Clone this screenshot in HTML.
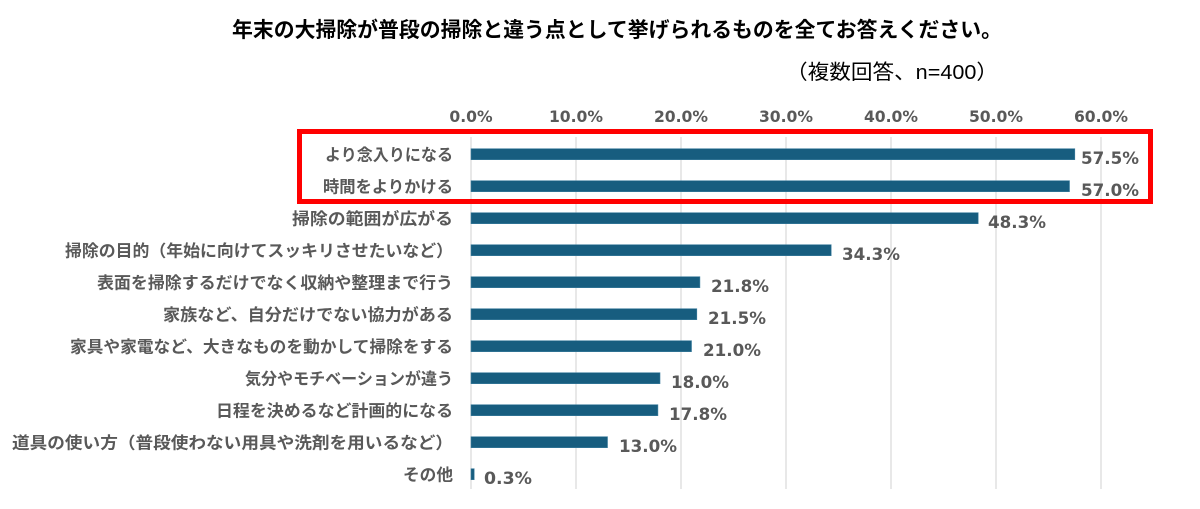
<!DOCTYPE html>
<html>
<head>
<meta charset="utf-8">
<style>
  html,body{margin:0;padding:0;background:#fff;}
  svg{display:block;}
  .t{font-family:"Liberation Sans","Noto Sans CJK JP",sans-serif;}
  .lab{font-family:"Liberation Sans","Noto Sans CJK JP",sans-serif;font-weight:bold;font-size:16.5px;fill:#595959;}
  .val{font-family:"DejaVu Sans","Liberation Sans",sans-serif;font-weight:bold;font-size:16.7px;fill:#595959;}
  .ax{font-family:"DejaVu Sans","Liberation Sans",sans-serif;font-weight:bold;font-size:15.6px;fill:#595959;}
</style>
</head>
<body>
<svg width="1200" height="509" viewBox="0 0 1200 509" xmlns="http://www.w3.org/2000/svg">
  <rect width="1200" height="509" fill="#fff"/>
  <!-- title -->
  <text class="t" x="232" y="37" font-size="20.8" font-weight="bold" fill="#000" textLength="770" lengthAdjust="spacingAndGlyphs">年末の大掃除が普段の掃除と違う点として挙げられるものを全てお答えください。</text>
  <text class="t" x="786" y="79" font-size="20.5" fill="#000" textLength="212" lengthAdjust="spacingAndGlyphs">（複数回答、n=400）</text>

  <!-- axis labels -->
  <g class="ax" text-anchor="middle">
    <text x="471" y="122">0.0%</text>
    <text x="576" y="122">10.0%</text>
    <text x="681" y="122">20.0%</text>
    <text x="786" y="122">30.0%</text>
    <text x="891" y="122">40.0%</text>
    <text x="996" y="122">50.0%</text>
    <text x="1101" y="122">60.0%</text>
  </g>

  <!-- gridlines -->
  <g stroke="#d9d9d9" stroke-width="1.2">
    <line x1="471" y1="137" x2="471" y2="489"/>
    <line x1="576" y1="137" x2="576" y2="489"/>
    <line x1="681" y1="137" x2="681" y2="489"/>
    <line x1="786" y1="137" x2="786" y2="489"/>
    <line x1="891" y1="137" x2="891" y2="489"/>
    <line x1="996" y1="137" x2="996" y2="489"/>
    <line x1="1101" y1="137" x2="1101" y2="489"/>
  </g>

  <!-- bars -->
  <g fill="#175d7f" stroke="#3f7f9f" stroke-width="0.6">
    <rect x="471" y="148.7" width="603.8" height="11"/>
    <rect x="471" y="180.7" width="598.5" height="11"/>
    <rect x="471" y="212.7" width="507.2" height="11"/>
    <rect x="471" y="244.7" width="360.2" height="11"/>
    <rect x="471" y="276.7" width="228.9" height="11"/>
    <rect x="471" y="308.7" width="225.8" height="11"/>
    <rect x="471" y="340.7" width="220.5" height="11"/>
    <rect x="471" y="372.7" width="189.0" height="11"/>
    <rect x="471" y="404.7" width="186.9" height="11"/>
    <rect x="471" y="436.7" width="136.5" height="11"/>
    <rect x="471" y="468.7" width="3.2" height="11"/>
  </g>

  <!-- value labels -->
  <g class="val">
    <text x="1081" y="164" textLength="58" lengthAdjust="spacingAndGlyphs">57.5%</text>
    <text x="1081" y="196" textLength="58" lengthAdjust="spacingAndGlyphs">57.0%</text>
    <text x="988" y="228" textLength="58" lengthAdjust="spacingAndGlyphs">48.3%</text>
    <text x="842" y="260" textLength="58" lengthAdjust="spacingAndGlyphs">34.3%</text>
    <text x="711" y="292" textLength="58" lengthAdjust="spacingAndGlyphs">21.8%</text>
    <text x="708" y="324" textLength="58" lengthAdjust="spacingAndGlyphs">21.5%</text>
    <text x="703" y="356" textLength="58" lengthAdjust="spacingAndGlyphs">21.0%</text>
    <text x="671" y="388" textLength="58" lengthAdjust="spacingAndGlyphs">18.0%</text>
    <text x="669" y="420" textLength="58" lengthAdjust="spacingAndGlyphs">17.8%</text>
    <text x="619" y="452" textLength="58" lengthAdjust="spacingAndGlyphs">13.0%</text>
    <text x="484" y="484" textLength="48" lengthAdjust="spacingAndGlyphs">0.3%</text>
  </g>

  <!-- category labels -->
  <g class="lab">
    <text x="325" y="160.5" textLength="128" lengthAdjust="spacingAndGlyphs">より念入りになる</text>
    <text x="323" y="192.5" textLength="130" lengthAdjust="spacingAndGlyphs">時間をよりかける</text>
    <text x="292" y="224.5" textLength="161" lengthAdjust="spacingAndGlyphs">掃除の範囲が広がる</text>
    <text x="65" y="256.5" textLength="388" lengthAdjust="spacingAndGlyphs">掃除の目的（年始に向けてスッキリさせたいなど）</text>
    <text x="97" y="288.5" textLength="356" lengthAdjust="spacingAndGlyphs">表面を掃除するだけでなく収納や整理まで行う</text>
    <text x="163" y="320.5" textLength="290" lengthAdjust="spacingAndGlyphs">家族など、自分だけでない協力がある</text>
    <text x="70" y="352.5" textLength="383" lengthAdjust="spacingAndGlyphs">家具や家電など、大きなものを動かして掃除をする</text>
    <text x="245" y="384.5" textLength="208" lengthAdjust="spacingAndGlyphs">気分やモチベーションが違う</text>
    <text x="216" y="416.5" textLength="237" lengthAdjust="spacingAndGlyphs">日程を決めるなど計画的になる</text>
    <text x="12" y="448.5" textLength="441" lengthAdjust="spacingAndGlyphs">道具の使い方（普段使わない用具や洗剤を用いるなど）</text>
    <text x="403" y="480.5" textLength="50" lengthAdjust="spacingAndGlyphs">その他</text>
  </g>

  <!-- red highlight box -->
  <rect x="299.5" y="131.5" width="851" height="70" fill="none" stroke="#ff0000" stroke-width="5"/>
</svg>
</body>
</html>
